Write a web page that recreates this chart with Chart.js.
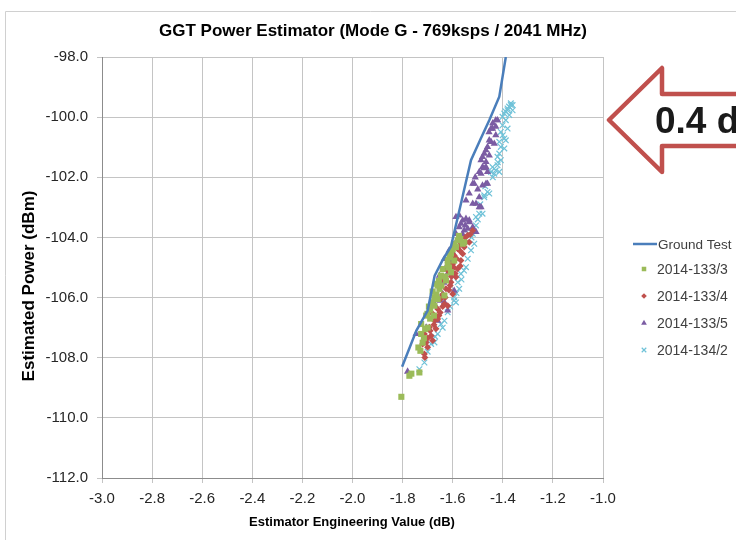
<!DOCTYPE html>
<html>
<head>
<meta charset="utf-8">
<script src="https://cdn.jsdelivr.net/npm/chart.js@4.4.1/dist/chart.umd.min.js"></script>
<style>
  html, body { margin: 0; padding: 0; background: #ffffff; overflow: hidden; }
  #wrap { position: relative; width: 736px; height: 540px; }
  #c { position: absolute; left: 0; top: 0; }
  #arrow { position: absolute; left: 0; top: 0; pointer-events: none; }
</style>
</head>
<body>
<div id="wrap">
  <canvas id="c" width="736" height="540"></canvas>
  <svg id="arrow" width="736" height="540" viewBox="0 0 736 540">
    <polygon points="609,120 662,68 662,94 750,94 750,146 662,146 662,172"
             fill="#ffffff" stroke="#c0504d" stroke-width="4.5" stroke-linejoin="round"/>
    <text x="655" y="133" font-family="Liberation Sans, Arial, sans-serif" font-weight="bold"
          font-size="37" fill="#1a1a1a">0.4 dB</text>
  </svg>
</div>
<script>
// ---------------- DATA ----------------
const chartTitle = "GGT Power Estimator (Mode G - 769ksps / 2041 MHz)";
const xAxisTitle = "Estimator Engineering Value (dB)";
const yAxisTitle = "Estimated Power (dBm)";
const seriesNames = ["Ground Test", "2014-133/3", "2014-133/4", "2014-133/5", "2014-134/2"];

const groundX = [-1.802, -1.745, -1.700, -1.672, -1.640, -1.607, -1.567, -1.527, -1.490, -1.454, -1.414, -1.388];
const groundY = [-108.3, -107.1, -106.43, -105.27, -104.75, -104.3, -102.87, -101.43, -100.75, -100.1, -99.32, -98.0];

const s1333X = [-1.805, -1.773, -1.765, -1.733, -1.737, -1.729, -1.726, -1.726, -1.706, -1.701, -1.673, -1.681, -1.673, -1.633, -1.653, -1.667, -1.627, -1.647, -1.607, -1.620, -1.594, -1.607, -1.587, -1.594, -1.554, -1.580, -1.560, -1.690, -1.660, -1.640, -1.700, -1.715, -1.612, -1.630, -1.660, -1.575, -1.680,
                -1.665, -1.655, -1.645, -1.620, -1.600, -1.615, -1.690, -1.710, -1.720, -1.695, -1.675, -1.570];
const s1333Y = [-109.3, -108.6, -108.53, -108.49, -107.66, -107.77, -107.21, -106.88, -106.6, -106.54, -106.27, -106.16, -105.99, -105.93, -105.71, -105.54, -105.43, -105.27, -105.16, -104.93, -104.77, -104.54, -104.32, -104.21, -104.16, -104.1, -104.21, -106.4, -105.6, -105.05, -107.0, -107.35, -104.65, -105.3, -106.05, -103.95, -105.8,
                -105.9, -105.45, -105.6, -104.75, -104.4, -105.0, -106.7, -107.05, -107.5, -106.3, -106.6, -104.05];

const s1334X = [-1.713, -1.711, -1.720, -1.706, -1.713, -1.686, -1.680, -1.693, -1.667, -1.673, -1.660, -1.680, -1.660, -1.633, -1.620, -1.647, -1.600, -1.627, -1.607, -1.640, -1.587, -1.620, -1.580, -1.600, -1.567, -1.594, -1.560, -1.580, -1.554, -1.547, -1.534, -1.574, -1.540, -1.520, -1.700, -1.650, -1.610, -1.570, -1.590, -1.640,
                -1.690, -1.700, -1.675, -1.655, -1.640, -1.630, -1.615, -1.605, -1.595, -1.585, -1.570, -1.550, -1.530, -1.610];
const s1334Y = [-107.88, -107.99, -107.54, -107.49, -107.21, -107.27, -107.43, -106.99, -107.04, -106.77, -106.71, -106.54, -106.38, -106.21, -106.27, -106.04, -105.88, -105.71, -105.49, -105.38, -105.32, -105.1, -105.04, -104.88, -104.77, -104.6, -104.54, -104.38, -104.32, -104.16, -104.16, -104.27, -103.93, -103.77, -107.65, -106.5, -105.6, -104.95, -105.2, -105.9,
                -107.1, -107.35, -106.9, -106.6, -106.3, -106.0, -105.75, -105.3, -105.0, -104.7, -104.45, -104.0, -103.9, -104.9];

const s1335X = [-1.780, -1.746, -1.706, -1.660, -1.620, -1.633, -1.673, -1.640, -1.594, -1.647, -1.653, -1.627, -1.633, -1.614, -1.567, -1.587, -1.554, -1.520, -1.567, -1.534, -1.574, -1.587, -1.560, -1.547, -1.534, -1.574, -1.540, -1.507, -1.494, -1.507, -1.487, -1.547, -1.520, -1.534, -1.494, -1.520, -1.467, -1.514, -1.481, -1.461, -1.487, -1.461, -1.494, -1.481, -1.467, -1.487, -1.467, -1.481, -1.474, -1.454, -1.467, -1.461, -1.447, -1.434, -1.454, -1.428, -1.441, -1.447, -1.428, -1.428, -1.421,
                -1.650, -1.635, -1.620, -1.605, -1.600, -1.580, -1.560, -1.550, -1.500, -1.510, -1.475, -1.455, -1.440];
const s1335Y = [-108.46, -107.21, -106.99, -106.77, -106.43, -106.16, -106.21, -105.88, -105.77, -105.54, -105.27, -104.99, -104.71, -104.43, -104.21, -103.88, -103.77, -103.66, -103.54, -103.43, -103.27, -103.32, -103.43, -103.38, -103.49, -103.66, -103.71, -103.82, -102.99, -102.88, -102.99, -102.77, -102.88, -102.54, -102.66, -102.21, -102.21, -102.21, -102.27, -102.21, -101.88, -101.82, -101.82, -101.66, -101.66, -101.43, -101.49, -101.32, -101.21, -101.27, -101.1, -100.99, -100.82, -100.88, -100.77, -100.6, -100.38, -100.38, -100.32, -100.1, -100.1,
                -106.1, -105.5, -105.2, -104.8, -104.5, -104.05, -103.9, -103.6, -102.4, -102.0, -101.7, -100.5, -100.2];

const s1342X = [-1.368, -1.361, -1.368, -1.381, -1.361, -1.381, -1.394, -1.374, -1.401, -1.388, -1.401, -1.381, -1.408, -1.394, -1.388, -1.414, -1.408, -1.394, -1.414, -1.421, -1.408, -1.421, -1.441, -1.428, -1.414, -1.447, -1.434, -1.461, -1.454, -1.474, -1.474, -1.481, -1.494, -1.507, -1.507, -1.520, -1.534, -1.514, -1.527, -1.540, -1.547, -1.567, -1.580, -1.574, -1.594, -1.587, -1.594, -1.620, -1.633, -1.647, -1.660, -1.673, -1.686, -1.713, -1.733,
                -1.375, -1.390, -1.400, -1.420, -1.440, -1.470, -1.490, -1.500, -1.525, -1.555, -1.565, -1.585, -1.610, -1.640, -1.670, -1.700];
const s1342Y = [-99.54, -99.6, -99.6, -99.71, -99.77, -99.77, -99.88, -99.93, -99.99, -100.1, -100.27, -100.38, -100.49, -100.71, -100.77, -100.82, -100.99, -101.04, -101.21, -101.32, -101.43, -101.6, -101.66, -101.77, -101.82, -101.82, -101.88, -102.49, -102.54, -102.6, -102.66, -103.21, -103.21, -103.32, -103.6, -103.88, -103.88, -104.21, -104.43, -104.71, -104.99, -105.21, -105.49, -105.71, -105.99, -106.16, -106.1, -106.49, -106.77, -106.88, -107.21, -107.49, -107.54, -108.16, -108.38,
                -99.65, -99.8, -100.6, -101.5, -102.0, -102.3, -102.9, -103.4, -104.0, -105.1, -105.4, -105.85, -106.3, -107.0, -107.3, -107.8];

const xMin = -3.0, xMax = -1.0, xStep = 0.2;
const yMin = -112.0, yMax = -98.0, yStep = 2.0;

// ---------------- BUILD ----------------
const pairs = (xs, ys) => xs.map((x, i) => ({ x: x, y: ys[i] }));
const FONT = "'Liberation Sans', Arial, sans-serif";

const datasets = [
  { label: seriesNames[0], type: 'line', data: pairs(groundX, groundY), borderColor: '#4a7ebb', borderWidth: 2.5,
    pointRadius: 0, fill: false, tension: 0, showLine: true, clip: true },
  { label: seriesNames[1], data: pairs(s1333X, s1333Y), pointStyle: 'rect', pointRadius: 4.3,
    backgroundColor: '#9bbb59', borderColor: '#9bbb59', borderWidth: 0 },
  { label: seriesNames[2], data: pairs(s1334X, s1334Y), pointStyle: 'rectRot', pointRadius: 3.5,
    backgroundColor: '#c0504d', borderColor: '#c0504d', borderWidth: 0 },
  { label: seriesNames[3], data: pairs(s1335X, s1335Y), pointStyle: 'triangle', pointRadius: 4.2,
    backgroundColor: '#7b5ca3', borderColor: '#7b5ca3', borderWidth: 0 },
  { label: seriesNames[4], data: pairs(s1342X, s1342Y), pointStyle: 'crossRot', pointRadius: 4,
    backgroundColor: '#7cc8dc', borderColor: '#6fc2d8', borderWidth: 1.2 }
];

const legendRadius = [0, 3.2, 2.8, 3.3, 3.2];

const decorPlugin = {
  id: 'decor',
  beforeDraw(chart) {
    const ctx = chart.ctx;
    ctx.save();
    ctx.fillStyle = '#ffffff';
    ctx.fillRect(0, 0, chart.width, chart.height);
    ctx.strokeStyle = '#d0d0d0';
    ctx.lineWidth = 1;
    ctx.beginPath();
    ctx.moveTo(5.5, 540);
    ctx.lineTo(5.5, 11.5);
    ctx.lineTo(736, 11.5);
    ctx.stroke();
    ctx.restore();
  },
  afterDraw(chart) {
    const ctx = chart.ctx;
    ctx.save();
    ctx.fillStyle = '#000000';
    ctx.textAlign = 'center';
    ctx.textBaseline = 'middle';
    ctx.font = 'bold 17px ' + FONT;
    ctx.fillText(chartTitle, 373, 31);
    ctx.font = 'bold 13px ' + FONT;
    ctx.fillText(xAxisTitle, 352, 522);
    ctx.save();
    ctx.translate(29, 286);
    ctx.rotate(-Math.PI / 2);
    ctx.font = 'bold 17px ' + FONT;
    ctx.fillText(yAxisTitle, 0, 0);
    ctx.restore();
    const rows = [244, 269, 296, 323, 350];
    ctx.textAlign = 'left';
    chart.data.datasets.forEach((ds, i) => {
      const y = rows[i];
      if (i === 0) {
        ctx.strokeStyle = ds.borderColor;
        ctx.lineWidth = 2.5;
        ctx.beginPath();
        ctx.moveTo(633, y);
        ctx.lineTo(657, y);
        ctx.stroke();
      } else {
        ctx.fillStyle = ds.backgroundColor;
        ctx.strokeStyle = ds.borderColor;
        ctx.lineWidth = ds.borderWidth || 1;
        Chart.helpers.drawPoint(ctx, { pointStyle: ds.pointStyle, radius: legendRadius[i], rotation: 0, borderWidth: ds.borderWidth }, 644, y);
      }
      ctx.fillStyle = '#404040';
      ctx.font = (i === 0 ? '13.5px ' : '14px ') + FONT;
      ctx.fillText(ds.label, i === 0 ? 658 : 657, y + 1);
    });
    ctx.restore();
  }
};

new Chart(document.getElementById('c'), {
  type: 'scatter',
  data: { datasets: datasets },
  options: {
    responsive: false,
    animation: false,
    devicePixelRatio: 1,
    layout: { padding: { top: 57, right: 133, left: 0, bottom: 0 } },
    plugins: { legend: { display: false }, title: { display: false }, tooltip: { enabled: false } },
    scales: {
      x: {
        type: 'linear', min: xMin, max: xMax,
        afterFit(scale) { scale.height = 62; },
        ticks: { stepSize: xStep, font: { family: FONT, size: 15 }, color: '#262626', padding: 7,
                 maxRotation: 0, autoSkip: false, callback: v => Number(v).toFixed(1) },
        grid: { color: '#c4c4c4', lineWidth: 1, tickLength: 5, drawTicks: true },
        border: { color: '#8c8c8c', width: 1 }
      },
      y: {
        type: 'linear', min: yMin, max: yMax,
        afterFit(scale) { scale.width = 102; },
        ticks: { stepSize: yStep, font: { family: FONT, size: 15 }, color: '#262626', padding: 9,
                 autoSkip: false, callback: v => Number(v).toFixed(1) },
        grid: { color: '#c4c4c4', lineWidth: 1, tickLength: 5, drawTicks: true },
        border: { color: '#8c8c8c', width: 1 }
      }
    }
  },
  plugins: [decorPlugin]
});
</script>
</body>
</html>
